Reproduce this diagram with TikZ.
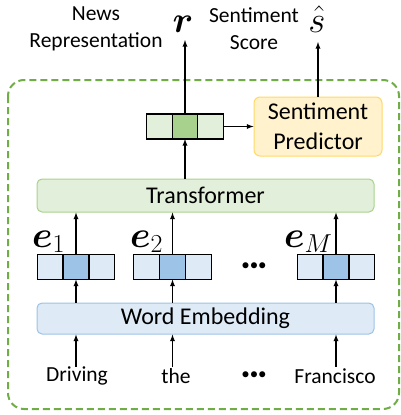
\RequirePackage{fix-cm}
\documentclass[tikz,border=0pt]{standalone}
\usepackage{amsmath}
\usepackage{amsfonts}
\usepackage{fontspec}
\setmainfont{Carlito}
\usepackage{tikz}
\usetikzlibrary{arrows}
\usetikzlibrary{calc}
\usetikzlibrary{positioning}

\definecolor{frameGreen}{RGB}{112,173,71}
\definecolor{lightGreen}{RGB}{226,239,218}
\definecolor{midGreen}{RGB}{169,209,142}
\definecolor{lightBlue}{RGB}{222,235,247}
\definecolor{midBlue}{RGB}{157,195,230}
\definecolor{lightYellow}{RGB}{255,242,204}
\definecolor{edgeYellow}{RGB}{255,217,102}

\begin{document}
\begin{tikzpicture}[x=1pt, y=-1pt,
    cell/.style={draw, line width=1.2pt, inner sep=0pt, outer sep=0pt, minimum width=25.5pt, minimum height=25pt},
    layer/.style={draw, line width=1pt, rounded corners=5pt, minimum width=337pt, inner sep=0pt, font=\fontsize{24}{29}\selectfont},
    side/.style={align=center, inner sep=0pt, font=\fontsize{21.5}{27}\selectfont},
    dots/.style={inner sep=0pt, font=\fontsize{17}{19}\selectfont},
    sym/.style={inner sep=0pt, font=\fontsize{37}{40}\selectfont},
    arr/.style={-latex, line width=1.3pt}]
    \path[use as bounding box] (0, 0) rectangle (401, 415);
    \draw[frameGreen, line width=2pt, dash pattern=on 7pt off 4pt, rounded corners=16pt] (8, 80) rectangle (399, 409);

    % output vector and predictor
    \node[cell, fill=lightGreen] (r1) at (159.5, 126.5) {};
    \node[cell, fill=midGreen]   (r2) at (185, 126.5) {};
    \node[cell, fill=lightGreen] (r3) at (210.5, 126.5) {};
    \node[draw=edgeYellow, fill=lightYellow, line width=1pt, rounded corners=6pt, minimum width=128pt, minimum height=59pt, align=center, inner sep=0pt, font=\fontsize{24}{30}\selectfont] (pred) at (318, 126.5) {Sentiment\\Predictor};
    \coordinate (rtop) at (185, 40);
    \coordinate (stop) at (318, 42);
    \node[sym, anchor=base] (r) at (183, 32) {$\boldsymbol{r}$};
    \node[sym, anchor=base] (s) at (317, 32) {$\hat{s}$};
    \node[side] (newslbl) at (96, 29) {News\\Representation};
    \node[side] (scorelbl) at (254, 29) {Sentiment\\Score};

    % transformer and embeddings
    \node[layer, draw=midGreen, fill=lightGreen, minimum height=33pt] (trans) at (205.5, 195.5) {Transformer};
    \node[layer, draw=midBlue, fill=lightBlue, minimum height=31pt] (wemb) at (205.5, 318.5) {Word Embedding};

    \node[cell, fill=lightBlue] (e1a) at (50, 267) {};
    \node[cell, fill=midBlue]   (e1b) at (76, 267) {};
    \node[cell, fill=lightBlue] (e1c) at (102, 267) {};
    \node[cell, fill=lightBlue] (e2a) at (146.5, 267) {};
    \node[cell, fill=midBlue]   (e2b) at (172.5, 267) {};
    \node[cell, fill=lightBlue] (e2c) at (198.5, 267) {};
    \node[cell, fill=lightBlue] (eMa) at (310, 267) {};
    \node[cell, fill=midBlue]   (eMb) at (336, 267) {};
    \node[cell, fill=lightBlue] (eMc) at (362, 267) {};
    \node[sym, anchor=base west] (e1) at (32, 247) {$\boldsymbol{e}_1$};
    \node[sym, anchor=base west] (e2) at (130, 247) {$\boldsymbol{e}_2$};
    \node[sym, anchor=base west] (eM) at (284, 247) {$\boldsymbol{e}_M$};
    \node[dots] (edots) at (254, 267) {•••};

    \node[side] (w1) at (77, 376) {Driving};
    \node[side] (w2) at (176, 376) {the};
    \node[dots] (wdots) at (254, 376) {•••};
    \node[side] (wM) at (335, 376) {Francisco};

    % connectors
    \draw[arr] (r2.north) -- (rtop);
    \draw[arr] (pred.north) -- (stop);
    \draw[arr] (r3.east) -- (pred.west);
    \draw[arr] (trans.north -| r2) -- (r2.south);
    \foreach \v in {e1b, e2b, eMb} {
        \draw[arr] (\v.north) -- (\v |- trans.south);
        \draw[arr] (\v |- wemb.north) -- (\v.south);
    }
    \draw[arr] (e1b |- w1.north) -- (e1b |- wemb.south);
    \draw[arr] (e2b |- w1.north) -- (e2b |- wemb.south);
    \draw[arr] (eMb |- w1.north) -- (eMb |- wemb.south);
\end{tikzpicture}
\end{document}
